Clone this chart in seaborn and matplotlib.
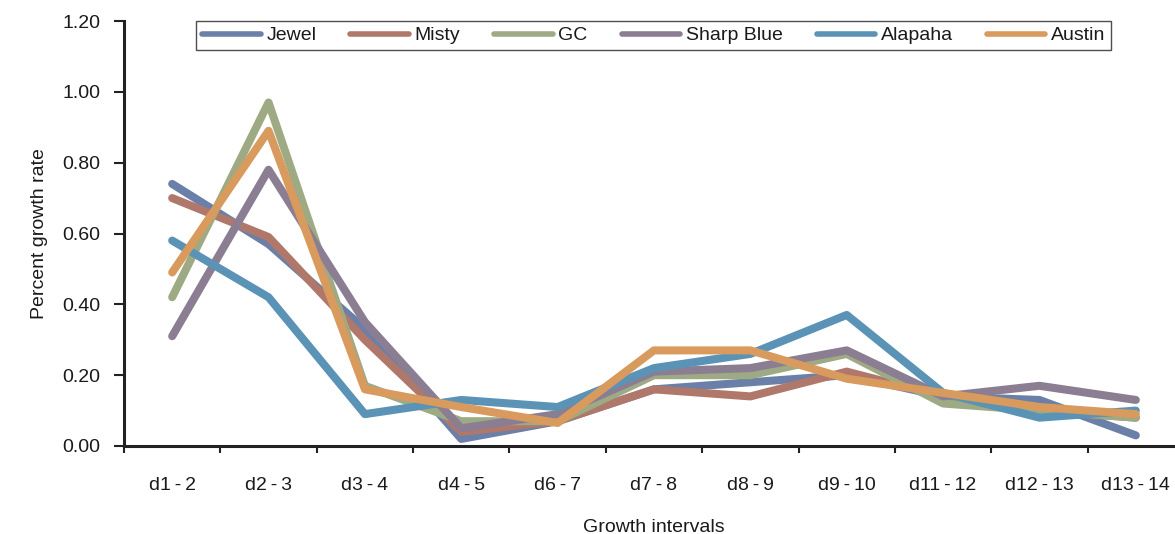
import matplotlib
matplotlib.use("Agg")
import matplotlib.pyplot as plt
import seaborn as sns
import pandas as pd
import numpy as np
from matplotlib.ticker import FixedLocator

intervals = ["d1\u2009-\u20092", "d2\u2009-\u20093", "d3\u2009-\u20094", "d4\u2009-\u20095",
             "d6\u2009-\u20097", "d7\u2009-\u20098", "d8\u2009-\u20099", "d9\u2009-\u200910",
             "d11\u2009-\u200912", "d12\u2009-\u200913", "d13\u2009-\u200914"]
jewel      = [0.74, 0.57, 0.33, 0.02, 0.07, 0.16, 0.18, 0.20, 0.14, 0.13, 0.03]
misty      = [0.70, 0.59, 0.30, 0.04, 0.07, 0.16, 0.14, 0.21, 0.14, 0.10, 0.08]
gc         = [0.42, 0.97, 0.17, 0.07, 0.07, 0.20, 0.20, 0.26, 0.12, 0.10, 0.08]
sharp_blue = [0.31, 0.78, 0.35, 0.05, 0.09, 0.21, 0.22, 0.27, 0.14, 0.17, 0.13]
alapaha    = [0.58, 0.42, 0.09, 0.13, 0.11, 0.22, 0.26, 0.37, 0.15, 0.08, 0.10]
austin     = [0.49, 0.89, 0.16, 0.11, 0.065, 0.27, 0.27, 0.19, 0.15, 0.11, 0.09]

series_names = ["Jewel", "Misty", "GC", "Sharp Blue", "Alapaha", "Austin"]
series_vals = [jewel, misty, gc, sharp_blue, alapaha, austin]
colors = ["#6a80a8", "#b0786a", "#9eaa84", "#8b7e93", "#5a93b5", "#d99a5e"]

rows = []
for name, vals in zip(series_names, series_vals):
    for iv, v in zip(intervals, vals):
        rows.append({"interval": iv, "rate": v, "variety": name})
df = pd.DataFrame(rows)

sns.set_theme(style="white")
plt.rcParams["font.family"] = ["Liberation Sans", "DejaVu Sans"]

fig = plt.figure(figsize=(11.75, 5.34), dpi=100)
ax = fig.add_axes([124/1175, 88/534, 1060/1175, 425/534])

sns.lineplot(data=df, x="interval", y="rate", hue="variety",
             hue_order=series_names, palette=colors, sort=False,
             linewidth=5.8, ax=ax, legend=False)

ax.set_xlim(-0.5, 10.5)
ax.set_ylim(0, 1.2)
yt = np.arange(0, 1.21, 0.2)
ax.set_yticks(yt)
ax.set_yticklabels([f"{v:.2f}" for v in yt], fontsize=14, color="#1a1a1a")
ax.set_xticks(range(len(intervals)))
ax.set_xticklabels(intervals, fontsize=14, color="#1a1a1a")
ax.xaxis.set_minor_locator(FixedLocator(np.arange(-0.5, 11, 1.0)))
ax.tick_params(axis="x", which="major", length=0, pad=22)
ax.tick_params(axis="x", which="minor", bottom=True, length=5, width=1.5, color="#222222")
ax.tick_params(axis="y", which="major", left=True, length=7, width=1.5, color="#222222", pad=10)

for s in ["top", "right"]:
    ax.spines[s].set_visible(False)
for s in ["left", "bottom"]:
    ax.spines[s].set_color("#222222")
    ax.spines[s].set_linewidth(2.2)

ax.set_xlabel("Growth intervals", fontsize=14, labelpad=18, color="#1a1a1a")
ax.set_ylabel("Percent growth rate", fontsize=14, labelpad=10, color="#1a1a1a")
ax.grid(False)

handles = [plt.Line2D([0], [0], color=c, lw=4) for c in colors]
leg = fig.legend(handles, series_names, loc="upper center",
                 bbox_to_anchor=(0.5565, 1 - 21/534), ncol=6, fontsize=14,
                 frameon=True, fancybox=False, handlelength=3.0,
                 columnspacing=1.75, handletextpad=0.3, borderpad=0.3,
                 borderaxespad=0)
leg.get_frame().set_edgecolor("#222222")
leg.get_frame().set_linewidth(1.0)
for t in leg.get_texts():
    t.set_color("#1a1a1a")

fig.savefig("out.png", dpi=100)
